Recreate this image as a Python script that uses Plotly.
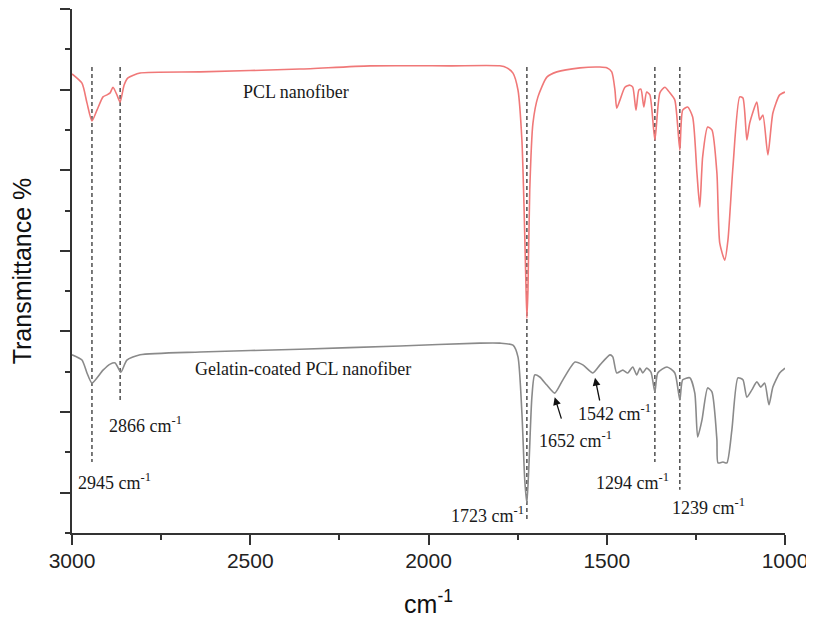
import plotly.graph_objects as go

# ---- data (wavenumber cm^-1, transmittance in arbitrary units) ----
pcl_wn = [3000, 2972, 2958, 2944, 2930, 2913, 2902, 2893, 2885, 2874, 2865, 2854, 2843, 2809,
          2641, 2361, 2164, 1940, 1800, 1780, 1763, 1749, 1738, 1732, 1727, 1724, 1721, 1716,
          1707, 1693, 1668, 1640, 1575, 1519, 1500, 1486, 1477, 1472, 1463, 1449, 1435, 1427,
          1418, 1410, 1404, 1396, 1388, 1379, 1365, 1351, 1337, 1323, 1309, 1295, 1287, 1273,
          1259, 1247, 1239, 1231, 1217, 1205, 1191, 1183, 1169, 1160, 1146, 1127, 1118, 1107,
          1099, 1079, 1071, 1062, 1048, 1034, 1015, 1000]
pcl_t = [113.9, 111.6, 106.7, 102.2, 104.9, 108.2, 108.7, 109.2, 110.6, 108.7, 106.9, 111.1, 112.9, 114.1,
         114.4, 115.1, 115.9, 115.9, 115.9, 115.4, 114.1, 109.9, 97.5, 80.9, 62.8, 53.3, 60.3, 85.1,
         101.7, 108.2, 113.1, 114.4, 115.4, 115.6, 115.4, 114.4, 109.9, 105.4, 107.4, 110.6, 111.1, 110.6,
         104.9, 109.9, 110.1, 105.7, 109.4, 108.7, 97.5, 109.2, 110.6, 109.2, 107.4, 95.0, 104.9, 105.7,
         103.2, 89.3, 80.9, 93.3, 100.7, 100.0, 89.3, 71.9, 67.7, 72.7, 90.8, 108.2, 107.9, 97.5,
         101.7, 106.9, 102.5, 103.7, 93.8, 104.2, 108.7, 109.4]

gel_wn = [3000, 2972, 2958, 2944, 2913, 2893, 2879, 2863, 2846, 2809, 2641, 2361, 2080, 1856,
          1800, 1763, 1749, 1738, 1730, 1724, 1718, 1710, 1702, 1688, 1668, 1646, 1623, 1589,
          1567, 1539, 1519, 1491, 1483, 1472, 1455, 1441, 1427, 1416, 1407, 1399, 1388, 1376,
          1365, 1357, 1331, 1309, 1295, 1287, 1267, 1253, 1245, 1233, 1217, 1205, 1191, 1188,
          1174, 1163, 1149, 1132, 1118, 1107, 1093, 1079, 1068, 1057, 1045, 1034, 1015, 1000]
gel_t = [44.2, 42.9, 39.7, 37.2, 40.4, 41.9, 42.2, 39.9, 42.9, 44.2, 44.9, 45.6, 46.4, 47.1,
         47.1, 46.6, 43.7, 29.8, 13.1, 7.4, 17.4, 33.7, 39.2, 38.7, 36.7, 34.7, 38.0, 42.4,
         41.7, 39.7, 41.7, 44.2, 43.7, 39.7, 40.4, 39.7, 41.2, 39.2, 40.9, 39.7, 40.9, 39.9,
         35.0, 39.7, 41.2, 39.7, 33.0, 38.0, 38.5, 34.7, 23.8, 28.0, 36.0, 35.0, 23.1, 17.4,
         17.6, 17.4, 25.6, 38.5, 38.0, 33.7, 35.5, 37.5, 36.2, 37.2, 31.8, 36.2, 39.7, 40.9]

# dashed marker lines: wavenumber, top, bottom
mark_wn = [2944, 2865, 1724, 1365, 1295]
mark_top = [115.6, 115.6, 115.6, 115.6, 115.6]
mark_bot = [17.6, 32.5, 3.2, 17.6, 10.7]

# peak labels: text, x, y
peak_text = ["2866 cm<sup>-1</sup>", "2945 cm<sup>-1</sup>", "1723 cm<sup>-1</sup>",
             "1542 cm<sup>-1</sup>", "1652 cm<sup>-1</sup>", "1294 cm<sup>-1</sup>",
             "1239 cm<sup>-1</sup>"]
peak_x = [2794, 2881, 1835, 1479, 1587, 1427, 1215]
peak_y = [26.8, 12.7, 4.7, 29.8, 23.3, 12.7, 6.5]

# arrows: head (x,y), tail (x,y)
arrow_head = [(1646, 33.7), (1533, 38.5)]
arrow_tail = [(1626, 28.0), (1519, 32.5)]

series_names = ["PCL nanofiber", "Gelatin-coated PCL nanofiber"]
series_label_x = [2372, 2351]
series_label_y = [109.4, 40.7]

x_ticks = [3000, 2500, 2000, 1500, 1000]

fig = go.Figure()

for w, t, b in zip(mark_wn, mark_top, mark_bot):
    fig.add_trace(go.Scatter(x=[w, w], y=[t, b], mode="lines",
                             line=dict(color="#333333", width=1.3, dash="4px,3px"),
                             showlegend=False, hoverinfo="skip"))

fig.add_trace(go.Scatter(x=pcl_wn, y=pcl_t, mode="lines", name=series_names[0],
                         line=dict(color="#f07878", width=1.6, shape="spline", smoothing=0.6),
                         showlegend=False))
fig.add_trace(go.Scatter(x=gel_wn, y=gel_t, mode="lines", name=series_names[1],
                         line=dict(color="#8a8a8a", width=1.6, shape="spline", smoothing=0.6),
                         showlegend=False))

serif = "Liberation Serif, Times New Roman, serif"
for name, x, y in zip(series_names, series_label_x, series_label_y):
    fig.add_annotation(x=x, y=y, text=name, showarrow=False,
                       font=dict(family=serif, size=18, color="#1a1a1a"))
for txt, x, y in zip(peak_text, peak_x, peak_y):
    fig.add_annotation(x=x, y=y, text=txt, showarrow=False,
                       font=dict(family=serif, size=18, color="#1a1a1a"))
for (hx, hy), (tx, ty) in zip(arrow_head, arrow_tail):
    fig.add_annotation(x=hx, y=hy, ax=tx, ay=ty, axref="x", ayref="y", text="",
                       showarrow=True, arrowhead=2, arrowsize=1.2, arrowwidth=1.3,
                       arrowcolor="#111111")

sans = "Liberation Sans, Arial, sans-serif"
# the page body adds an 8px offset, so the figure is sized 8px smaller
fig.update_layout(
    width=806, height=610,
    margin=dict(l=64, r=29, t=1, b=85),
    paper_bgcolor="white", plot_bgcolor="white",
    xaxis=dict(range=[3000, 1000], showgrid=False, zeroline=False, automargin=False,
               showline=True, linecolor="#333333", linewidth=2,
               ticks="outside", ticklen=10, tickwidth=1.6, tickcolor="#333333",
               tickvals=x_ticks, ticktext=[str(v) for v in x_ticks],
               tickfont=dict(family=sans, size=21, color="#222222"),
               ticklabelstandoff=-2,
               minor=dict(dtick=250, tick0=1000, ticks="outside", ticklen=5,
                          tickwidth=1.6, tickcolor="#333333"),
               title=dict(text="cm<sup>-1</sup>", font=dict(family=sans, size=25, color="#111111"),
                          standoff=26)),
    yaxis=dict(range=[0, 130], showgrid=False, zeroline=False, automargin=False,
               showline=True, linecolor="#333333", linewidth=2,
               ticks="outside", ticklen=10, tickwidth=1.6, tickcolor="#333333",
               tickvals=[10, 30, 50, 70, 90, 110, 130], showticklabels=False,
               minor=dict(dtick=10, tick0=0, ticks="outside", ticklen=5,
                          tickwidth=1.6, tickcolor="#333333"),
               title=dict(text="Transmittance %", font=dict(family=sans, size=25, color="#111111"),
                          standoff=23)),
)

fig.write_html("out.html")
